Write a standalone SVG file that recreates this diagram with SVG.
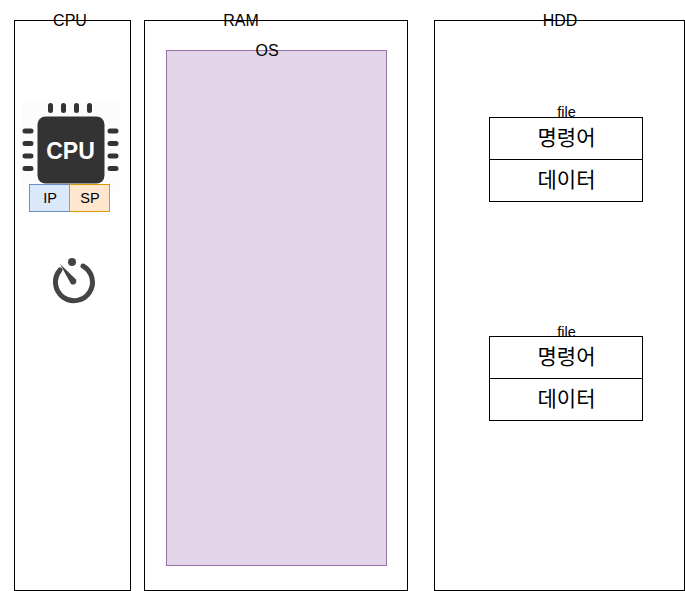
<svg xmlns="http://www.w3.org/2000/svg" width="685" height="591" viewBox="0 0 685 591">
<style>
text{font-family:"Liberation Sans",Arial,"Noto Sans CJK KR",sans-serif;fill:#000;text-anchor:middle}
.l{font-size:16px}
.s{font-size:14.500px}
.k{font-size:21px}
.b{fill:#fff;stroke:#000;stroke-width:1}
.p{fill:none;stroke:#333;stroke-width:5;stroke-linecap:round}
</style>
<rect width="685" height="591" fill="#fff"/>
<g id="cpu-box"><rect class="b" x="14.500" y="20.500" width="116" height="570"/><text class="l" x="70" y="26">CPU</text></g>
<g id="ram-box"><rect class="b" x="144.500" y="20.500" width="263" height="570"/><text class="l" x="241" y="26">RAM</text></g>
<g id="hdd-box"><rect class="b" x="434.500" y="20.500" width="250" height="570"/><text class="l" x="560" y="26">HDD</text></g>
<g id="os"><rect x="166.500" y="50.500" width="220" height="515" fill="#e1d5e7" stroke="#9673a6"/><text class="l" x="267" y="56">OS</text></g>
<g id="cpu-chip">
<rect x="22" y="102" width="98" height="90" fill="#fcfcfc"/>
<rect x="37.500" y="116.500" width="67" height="67" rx="8" fill="#333"/>
<path class="p" d="M50.500 105.500v5M63.500 105.500v5M76.500 105.500v5M89.500 105.500v5M25 131h6M25 143.500h6M25 156h6M25 168.500h6M110 131h6M110 143.500h6M110 156h6M110 168.500h6"/>
<text x="70.500" y="159" font-size="23" font-weight="bold" style="fill:#fff">CPU</text>
</g>
<g id="ip"><rect x="29.500" y="184.500" width="40" height="27" fill="#dae8fc" stroke="#6c8ebf"/><text class="s" x="50" y="203">IP</text></g>
<g id="sp"><rect x="69.500" y="184.500" width="40" height="27" fill="#ffe6cc" stroke="#d79b00"/><text class="s" x="90" y="203">SP</text></g>
<g id="timer">
<path d="M60 270A18.500 18.500 0 1 0 83 266" fill="none" stroke="#444" stroke-width="5" stroke-linecap="round"/>
<circle cx="72" cy="262" r="4" fill="#444"/>
<path d="M60 264L76 279.500A3.500 3.500 0 0 1 71 284Z" fill="#444"/>
</g>
<g id="file1">
<text class="s" x="566.500" y="117">file</text>
<rect class="b" x="489.500" y="117.500" width="153" height="42"/>
<text class="k" x="566.500" y="145">명령어</text>
<rect class="b" x="489.500" y="159.500" width="153" height="42"/>
<text class="k" x="566.500" y="187">데이터</text>
</g>
<g id="file2">
<text class="s" x="566.500" y="337">file</text>
<rect class="b" x="489.500" y="336.500" width="153" height="42"/>
<text class="k" x="566.500" y="364">명령어</text>
<rect class="b" x="489.500" y="378.500" width="153" height="42"/>
<text class="k" x="566.500" y="406">데이터</text>
</g>
<g id="connectors"/>
</svg>
